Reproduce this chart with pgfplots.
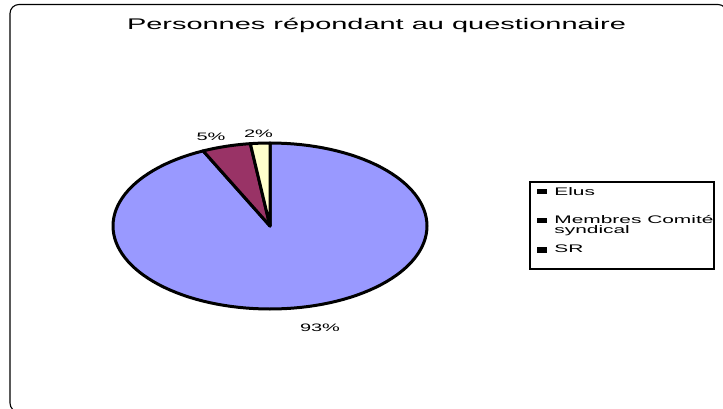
\documentclass[border=0pt]{standalone}
\usepackage{pgfplots}
\pgfplotsset{compat=1.18}
\usepackage{fontspec}
\setmainfont{Liberation Sans}
\definecolor{pieblue}{HTML}{9999FF}
\definecolor{piemaroon}{HTML}{993366}
\definecolor{pieyellow}{HTML}{FFFFCC}
% data (percent)
\def\vElus{93}
\def\vMembres{5}
\def\vSR{2}
\begin{document}
\begin{tikzpicture}
\pgfmathsetmacro{\aA}{90}
\pgfmathsetmacro{\aB}{90-3.6*\vElus}
\pgfmathsetmacro{\aC}{\aB-3.6*\vMembres}
\pgfmathsetmacro{\aD}{\aC-3.6*\vSR}
\begin{axis}[
  scale only axis, width=723bp, height=409bp,
  xmin=0, xmax=723, ymin=0, ymax=409, y dir=reverse,
  hide axis, clip=true,
]
% outer frame
\draw[black, line width=1.1bp, rounded corners=9bp] (axis cs:10,4.5) rectangle (axis cs:727,412);
% pie slices
\addplot[fill=pieblue, draw=black, line width=3bp, line join=round, domain=\aB:\aA, samples=120, variable=\t]
  ({270+157*cos(t)}, {226-83*sin(t)}) -- (axis cs:270,226) -- cycle;
\addplot[fill=piemaroon, draw=black, line width=3bp, line join=round, domain=\aC:\aB, samples=20, variable=\t]
  ({270+157*cos(t)}, {226-83*sin(t)}) -- (axis cs:270,226) -- cycle;
\addplot[fill=pieyellow, draw=black, line width=3bp, line join=round, domain=\aD:\aC, samples=10, variable=\t]
  ({270+157*cos(t)}, {226-83*sin(t)}) -- (axis cs:270,226) -- cycle;
% title
\node[anchor=base, xscale=1.88, inner sep=0pt, font=\fontsize{15.4bp}{18bp}\selectfont] at (axis cs:376.5,29.3) {Personnes répondant au questionnaire};
% data labels
\node[anchor=base, xscale=1.85, inner sep=0pt, font=\fontsize{10.8bp}{12bp}\selectfont] at (axis cs:211,140) {5\%};
\node[anchor=base, xscale=1.85, inner sep=0pt, font=\fontsize{10.8bp}{12bp}\selectfont] at (axis cs:258.5,137) {2\%};
\node[anchor=base, xscale=1.85, inner sep=0pt, font=\fontsize{10.8bp}{12bp}\selectfont] at (axis cs:320,331) {93\%};
% legend
\draw[black, line width=1.1bp] (axis cs:530,182) rectangle (axis cs:714,269);
\fill[black] (axis cs:537,188.5) rectangle (axis cs:547,194);
\fill[black] (axis cs:537,217.5) rectangle (axis cs:547,223);
\fill[black] (axis cs:537,247) rectangle (axis cs:547,252.5);
\node[anchor=base west, xscale=1.9, inner sep=0pt, font=\fontsize{11bp}{12bp}\selectfont] at (axis cs:554,195) {Elus};
\node[anchor=base west, xscale=1.9, inner sep=0pt, font=\fontsize{11bp}{12bp}\selectfont] at (axis cs:554,223) {Membres Comité};
\node[anchor=base west, xscale=1.9, inner sep=0pt, font=\fontsize{11bp}{12bp}\selectfont] at (axis cs:554,233.5) {syndical};
\node[anchor=base west, xscale=1.9, inner sep=0pt, font=\fontsize{11bp}{12bp}\selectfont] at (axis cs:554,252.5) {SR};
\end{axis}
\pgfresetboundingbox
\path[use as bounding box] (current axis.south west) rectangle (current axis.north east);
\end{tikzpicture}
\end{document}
